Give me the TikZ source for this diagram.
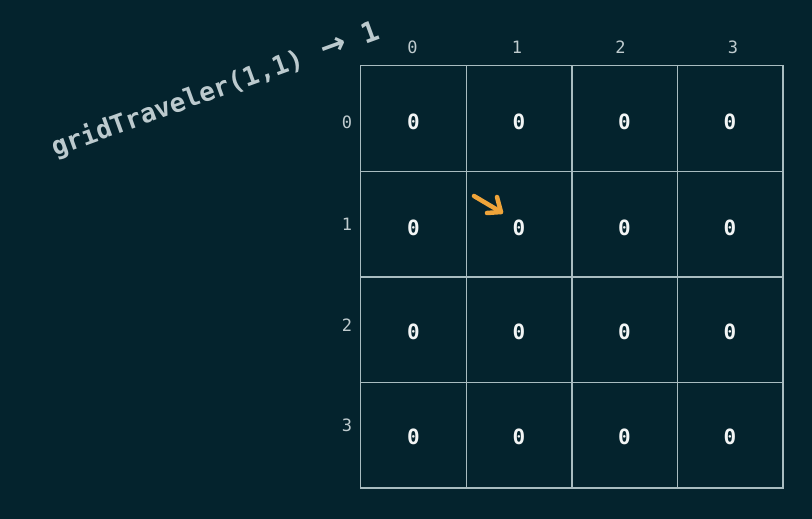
\documentclass[tikz,border=0pt]{standalone}
\usepackage{fontspec}
\setmonofont{DejaVu Sans Mono}
\newfontfamily\arrowfont{DejaVu Sans}
\usetikzlibrary{arrows.meta}
\definecolor{bg}{HTML}{04232D}
\definecolor{gridc}{HTML}{A9BCC0}
\definecolor{labc}{HTML}{BFCBCE}
\definecolor{valc}{HTML}{F2F5F5}
\definecolor{titc}{HTML}{BCCACE}
\definecolor{orng}{HTML}{EFA43A}
\tikzset{
  cellbox/.style={minimum width=105.5pt, minimum height=105.5pt, inner sep=0pt, anchor=north west},
  gridline/.style={draw=gridc, line width=1.5pt, line cap=rect},
  val/.style={text=valc, font=\ttfamily\bfseries\fontsize{21}{21}\selectfont, inner sep=0pt},
  lab/.style={text=labc, font=\ttfamily\fontsize{17}{17}\selectfont, inner sep=0pt},
  title/.style={text=titc, font=\ttfamily\bfseries\fontsize{26}{26}\selectfont, inner sep=0pt, rotate=20, anchor=base west},
  hint/.style={draw=orng, line width=4.5pt, line cap=round, line join=round}
}
\begin{document}
\begin{tikzpicture}[x=1pt,y=-1pt]
\fill[bg] (0,0) rectangle (812,519);
\useasboundingbox (0,0) rectangle (812,519);
% cells
\foreach \r in {0,1,2,3}{
  \foreach \c in {0,1,2,3}{
    \node[cellbox] (cell\r\c) at ({360.5+105.5*\c},{65.5+105.5*\r}) {};
  }
}
% grid lines
\draw[gridline] (cell00.north west) rectangle (cell33.south east);
\foreach \i in {0,1,2}{
  \draw[gridline] (cell0\i.north east) -- (cell3\i.south east);
  \draw[gridline] (cell\i0.south west) -- (cell\i3.south east);
}
% values
\foreach \r/\dy in {0/3,1/4,2/2,3/2}{
  \foreach \c in {0,1,2,3}{
    \node[val, yshift=-\dy pt] (v\r\c) at (cell\r\c.center) {0};
  }
}
% column labels
\node[lab] (col0) at (412.5,47) {0};
\node[lab] (col1) at (517,47) {1};
\node[lab] (col2) at (620.5,47) {2};
\node[lab] (col3) at (733,47) {3};
% row labels
\node[lab] (row0) at (347,122) {0};
\node[lab] (row1) at (347,224) {1};
\node[lab] (row2) at (347,325) {2};
\node[lab] (row3) at (347,425) {3};
% title
\node[title] (title) at (55,157) {gridTraveler(1,1)\hspace{20pt}{\arrowfont\fontsize{31}{31}\selectfont →}\hspace{18pt}{\fontsize{28}{28}\selectfont 1}};
% orange arrow
\coordinate (atail) at (474,196);
\coordinate (atip) at (501,212);
\coordinate (ah1) at (487,213);
\coordinate (ah2) at (497,197);
\draw[hint] (atail) -- (atip);
\draw[hint] (ah1) -- (atip) -- (ah2);
\end{tikzpicture}
\end{document}
